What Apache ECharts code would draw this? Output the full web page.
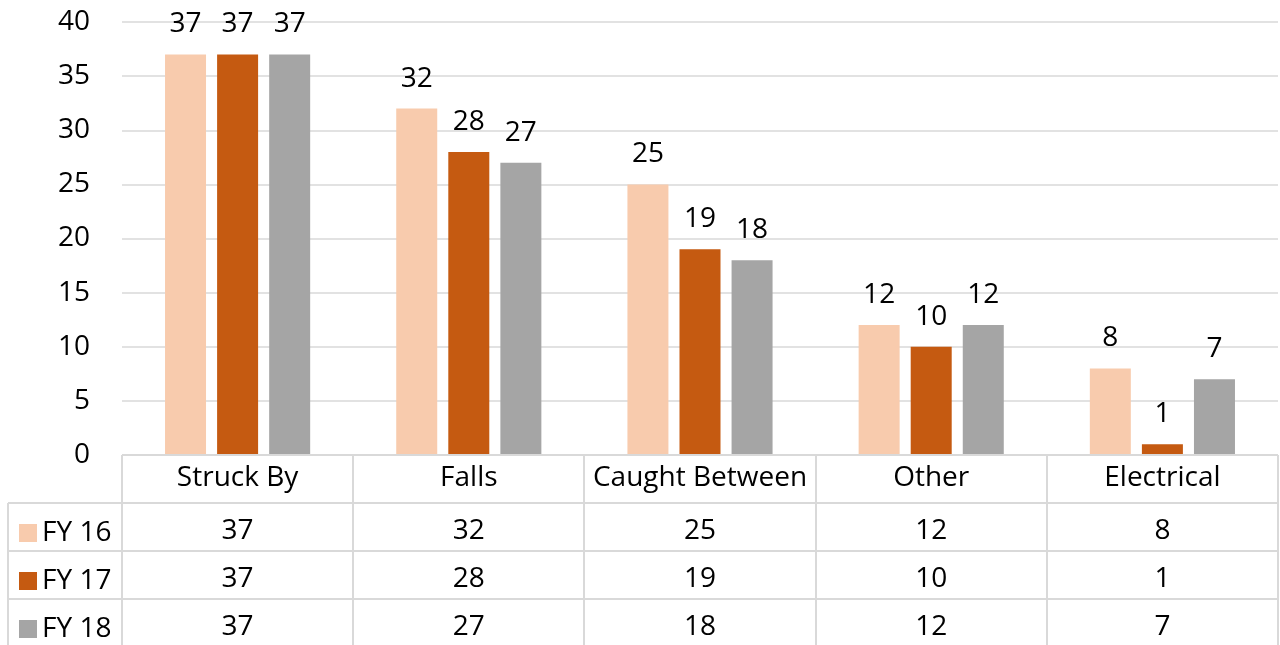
<!DOCTYPE html>
<html>
<head>
<meta charset="utf-8">
<script src="https://cdn.jsdelivr.net/npm/echarts@6/dist/echarts.min.js"></script>
<style>
  html, body { margin: 0; padding: 0; background: #fff; }
  #main { width: 1280px; height: 645px; }
</style>
</head>
<body>
<div id="main"></div>
<script>
var categories = ['Struck By', 'Falls', 'Caught Between', 'Other', 'Electrical'];
var seriesNames = ['FY 16', 'FY 17', 'FY 18'];
var fy16 = [37, 32, 25, 12, 8];
var fy17 = [37, 28, 19, 10, 1];
var fy18 = [37, 27, 18, 12, 7];
var colors = ['#F8CBAD', '#C55A11', '#A5A5A5'];

var FONT = 'Open Sans';
var FS = 28;
var LINE = '#d9d9d9';

// plot area / table geometry
var plotLeft = 122, plotRight = 1278, plotTop = 22, axisY = 455;
var rowH = 48;
var tableLeft = 8;

var chart = echarts.init(document.getElementById('main'));

function valueRowAxis(values, idx) {
  return {
    type: 'category',
    position: 'bottom',
    offset: rowH * (idx + 1),
    data: values.map(String),
    axisLine: { show: false },
    axisTick: { show: false },
    axisLabel: { interval: 0, margin: 14, fontFamily: FONT, fontSize: FS, color: '#000' }
  };
}

function barSeries(name, values, i) {
  return {
    name: name,
    type: 'bar',
    xAxisIndex: 0,
    barWidth: 41,
    barGap: '27%',
    data: values,
    itemStyle: { color: colors[i] },
    label: {
      show: true,
      position: 'top',
      distance: 16,
      fontFamily: FONT,
      fontSize: FS,
      color: '#000'
    }
  };
}

function legendRow(name, i) {
  return {
    data: [name],
    left: 19,
    top: axisY + rowH * (i + 1) + 16,
    padding: 0,
    icon: 'rect',
    itemWidth: 18,
    itemHeight: 18,
    textStyle: { fontFamily: FONT, fontSize: FS, color: '#000', lineHeight: 18, padding: [0, 0, 0, 0] },
    selectedMode: false
  };
}

// table lines
var colW = (plotRight - plotLeft) / categories.length;
var lines = [];
// horizontal lines
lines.push([plotLeft, axisY, plotRight, axisY]);
for (var r = 1; r <= 3; r++) {
  lines.push([tableLeft, axisY + rowH * r, plotRight, axisY + rowH * r]);
}
// vertical lines
lines.push([tableLeft, axisY + rowH, tableLeft, 645]);
for (var c = 0; c <= categories.length; c++) {
  var x = Math.round(plotLeft + colW * c);
  lines.push([x, axisY, x, 645]);
}
var graphics = lines.map(function (l) {
  return {
    type: 'line',
    shape: { x1: l[0], y1: l[1], x2: l[2], y2: l[3] },
    style: { stroke: LINE, lineWidth: 2 },
    z: 10
  };
});

var option = {
  animation: false,
  color: colors,
  textStyle: { fontFamily: FONT },
  grid: { left: plotLeft, right: 1280 - plotRight, top: plotTop, bottom: 645 - axisY },
  legend: seriesNames.map(legendRow),
  xAxis: [
    {
      type: 'category',
      data: categories,
      axisLine: { show: false },
      axisTick: { show: false },
      axisLabel: { interval: 0, margin: 9, fontFamily: FONT, fontSize: FS, color: '#000' }
    },
    valueRowAxis(fy16, 0),
    valueRowAxis(fy17, 1),
    valueRowAxis(fy18, 2)
  ],
  yAxis: {
    type: 'value',
    min: 0,
    max: 40,
    interval: 5,
    axisLine: { show: false },
    axisTick: { show: false },
    splitLine: { lineStyle: { color: LINE, width: 1.5 } },
    axisLabel: { margin: 32, fontFamily: FONT, fontSize: FS, color: '#000' }
  },
  graphic: graphics,
  series: [
    barSeries(seriesNames[0], fy16, 0),
    barSeries(seriesNames[1], fy17, 1),
    barSeries(seriesNames[2], fy18, 2)
  ]
};

chart.setOption(option);
</script>
</body>
</html>
